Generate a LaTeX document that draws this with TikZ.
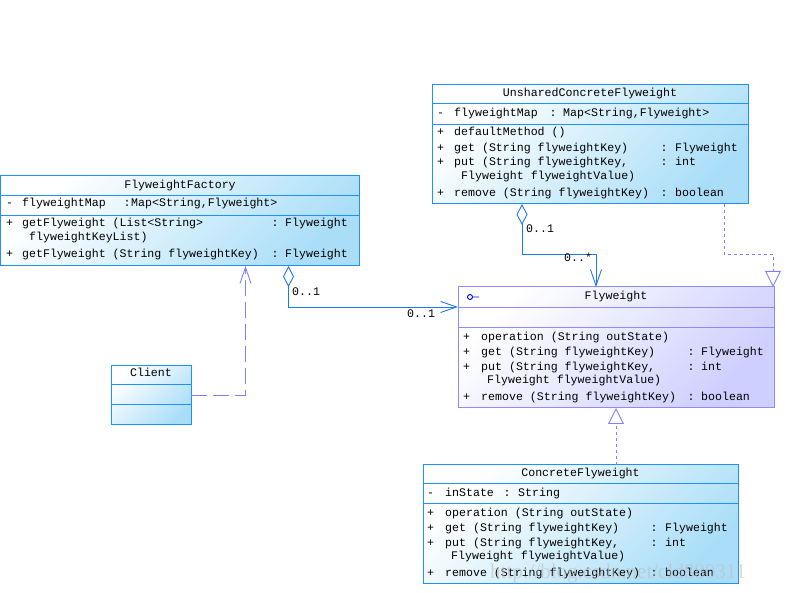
\documentclass[tikz,border=0pt]{standalone}
\usepackage{fontspec}
\newfontfamily\umlfont{Liberation Mono}
\newfontfamily\markfont{Liberation Serif}
\usetikzlibrary{arrows.meta}

\definecolor{boxline}{RGB}{30,144,255}
\definecolor{boxfill}{RGB}{170,222,248}
\definecolor{ifline}{RGB}{140,140,255}
\definecolor{iffill}{RGB}{206,206,255}
\definecolor{aggline}{RGB}{30,120,240}
\definecolor{depline}{RGB}{128,128,255}

\tikzset{
    classbox/.style={draw=boxline, line width=1pt, top color=white, bottom color=boxfill,
        shading angle=45, anchor=north west, outer sep=0pt, inner sep=0pt},
    ifacebox/.style={classbox, draw=ifline, top color=white, bottom color=iffill, shading angle=45},
    divider/.style={line width=1pt},
    txt/.style={font=\umlfont\fontsize{11.6}{13}\selectfont, inner sep=0pt, anchor=west,
        text height=7pt, text depth=2pt},
    agg/.style={draw=aggline, line width=0.9pt,
        {Diamond[length=21pt, width=11pt, fill=white]}-{Straight Barb[length=16pt, width=11pt]}},
    dep/.style={draw=depline, line width=0.9pt, dash pattern=on 16pt off 6pt,
        -{Straight Barb[length=16pt, width=11pt]}},
    real/.style={draw=depline, line width=0.9pt, dash pattern=on 3pt off 3pt,
        -{Triangle[length=16pt, width=16pt, fill=white]}}
}

% name, y, sign x, sign, text x, text
\newcommand{\opline}[6]{
    \node[txt] (#1s) at (#3,#2) {#4};
    \node[txt] (#1n) at (#5,#2) {#6};
}
% name, y, colon x, type x, type
\newcommand{\optype}[5]{
    \node[txt, anchor=center] (#1c) at (#3,#2) {:};
    \node[txt] (#1t) at (#4,#2) {#5};
}

\begin{document}
\begin{tikzpicture}[x=1pt, y=-1pt]

            \useasboundingbox (0,0) rectangle (804,593);

            \node[classbox, minimum width=359pt, minimum height=90pt] (factory) at (0.5,176) {};
            \draw[divider, boxline] ([yshift=-20pt]factory.north west) -- ([yshift=-20pt]factory.north east);
            \draw[divider, boxline] ([yshift=-40pt]factory.north west) -- ([yshift=-40pt]factory.north east);
            \node[txt, anchor=center] (factoryname) at (180,186) {FlyweightFactory};
            \opline{fa}{204}{6}{-}{22}{flyweightMap}
            \optype{fa}{204}{127}{131}{Map<String,Flyweight>}
            \opline{fb}{224}{6}{+}{22}{getFlyweight (List<String>}
            \optype{fb}{224}{275}{285}{Flyweight}
            \node[txt] (fbx) at (29,238) {flyweightKeyList)};
            \opline{fc}{255}{6}{+}{22}{getFlyweight (String flyweightKey)}
            \optype{fc}{255}{275}{285}{Flyweight}

            \node[classbox, minimum width=316pt, minimum height=119pt] (unshared) at (432,85) {};
            \draw[divider, boxline] ([yshift=-19pt]unshared.north west) -- ([yshift=-19pt]unshared.north east);
            \draw[divider, boxline] ([yshift=-40pt]unshared.north west) -- ([yshift=-40pt]unshared.north east);
            \node[txt, anchor=center] (unsharedname) at (590,94) {UnsharedConcreteFlyweight};
            \opline{ua}{114}{437}{-}{454}{flyweightMap}
            \optype{ua}{114}{553}{563}{Map<String,Flyweight>}
            \opline{ub}{133}{437}{+}{454}{defaultMethod ()}
            \opline{uc}{149}{437}{+}{454}{get (String flyweightKey)}
            \optype{uc}{149}{664}{675}{Flyweight}
            \opline{ud}{163}{437}{+}{454}{put (String flyweightKey,}
            \optype{ud}{163}{664}{675}{int}
            \node[txt] (udx) at (461,177) {Flyweight flyweightValue)};
            \opline{ue}{194}{437}{+}{454}{remove (String flyweightKey)}
            \optype{ue}{194}{664}{675}{boolean}

            \node[ifacebox, minimum width=316pt, minimum height=121pt] (flyweight) at (458,287) {};
            \draw[divider, ifline] ([yshift=-21pt]flyweight.north west) -- ([yshift=-21pt]flyweight.north east);
            \draw[divider, ifline] ([yshift=-41pt]flyweight.north west) -- ([yshift=-41pt]flyweight.north east);
            \node[txt, anchor=center] (flyweightname) at (616,297) {Flyweight};
            \draw[blue!85!black, line width=0.9pt] (470,297) circle (2.5) (472.5,297) -- (479,297);
            \opline{fwa}{338}{463}{+}{481}{operation (String outState)}
            \opline{fwb}{353}{463}{+}{481}{get (String flyweightKey)}
            \optype{fwb}{353}{691}{701}{Flyweight}
            \opline{fwc}{368}{463}{+}{481}{put (String flyweightKey,}
            \optype{fwc}{368}{691}{701}{int}
            \node[txt] (fwcx) at (487,381) {Flyweight flyweightValue)};
            \opline{fwd}{398}{463}{+}{481}{remove (String flyweightKey)}
            \optype{fwd}{398}{691}{701}{boolean}

            \node[classbox, minimum width=315pt, minimum height=119pt] (concrete) at (423,465) {};
            \draw[divider, boxline] ([yshift=-19pt]concrete.north west) -- ([yshift=-19pt]concrete.north east);
            \draw[divider, boxline] ([yshift=-39pt]concrete.north west) -- ([yshift=-39pt]concrete.north east);
            \node[txt, anchor=center] (concretename) at (580.5,474) {ConcreteFlyweight};
            \opline{ca}{494}{427}{-}{445}{inState}
            \optype{ca}{494}{507}{518}{String}
            \opline{cb}{514}{427}{+}{445}{operation (String outState)}
            \opline{cc}{529}{427}{+}{445}{get (String flyweightKey)}
            \optype{cc}{529}{654}{665}{Flyweight}
            \opline{cd}{544}{427}{+}{445}{put (String flyweightKey,}
            \optype{cd}{544}{654}{665}{int}
            \node[txt] (cdx) at (451,557) {Flyweight flyweightValue)};
            \opline{ce}{574}{427}{+}{445}{remove (String flyweightKey)}
            \optype{ce}{574}{654}{665}{boolean}

            \node[classbox, minimum width=80pt, minimum height=59pt] (client) at (111,366) {};
            \draw[divider, boxline] ([yshift=-19pt]client.north west) -- ([yshift=-19pt]client.north east);
            \draw[divider, boxline] ([yshift=-39pt]client.north west) -- ([yshift=-39pt]client.north east);
            \node[txt, anchor=center] (clientname) at (151,374) {Client};

            \draw[dep] (client.east) -| ([xshift=245pt]factory.south west);

            \draw[agg] ([xshift=288pt]factory.south west) |- ([yshift=-20pt]flyweight.north west);
            \node[txt] (factorymult) at (292,293) {0..1};
            \node[txt] (flyweightmulta) at (407,315) {0..1};

            \draw[agg] ([xshift=90pt]unshared.south west) -- ++(0,50) -| ([xshift=138pt]flyweight.north west);
            \node[txt] (unsharedmult) at (526,230) {0..1};
            \node[txt] (flyweightmultb) at (564,259) {0..*};

            \draw[real] ([xshift=292pt]unshared.south west) -- ++(0,50) -| ([xshift=315pt]flyweight.north west);
            \draw[real] (concrete.north -| flyweight.south) -- (flyweight.south);

            \node[font=\markfont\fontsize{21}{21}\selectfont, text=gray!50, opacity=0.6, anchor=west,
                inner sep=0pt] (watermark) at (490,573) {http://blog.csdn.net/cld880311};

\end{tikzpicture}
\end{document}
